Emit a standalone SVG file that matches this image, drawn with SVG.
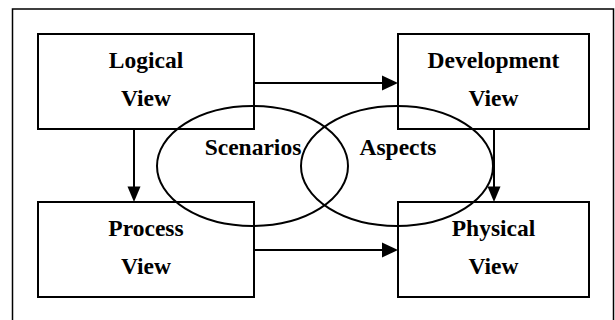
<svg xmlns="http://www.w3.org/2000/svg" width="615" height="320" viewBox="0 0 615 320">
  <defs>
    <style>
      .frame { fill: none; stroke: #000; stroke-width: 1.5; }
      .box { fill: none; stroke: #000; stroke-width: 2; }
      .ring { fill: none; stroke: #000; stroke-width: 2; }
      .edge { fill: none; stroke: #000; stroke-width: 2; }
      .head { fill: #000; stroke: none; }
      .label { font-family: "Liberation Serif", "Times New Roman", serif; font-weight: bold; font-size: 23.5px; fill: #000; text-anchor: middle; }
    </style>
  </defs>

  <rect width="615" height="320" fill="#fff"/>
  <!-- outer frame (bottom edge runs past the canvas) -->
  <rect class="frame" x="12.5" y="9" width="601" height="320"/>

  <!-- view boxes -->
  <g id="logical-view">
    <rect class="box" x="38" y="34" width="216" height="95"/>
    <text class="label" x="146" y="68">Logical</text>
    <text class="label" x="146" y="106">View</text>
  </g>
  <g id="development-view">
    <rect class="box" x="398" y="34" width="191" height="95"/>
    <text class="label" x="493.5" y="68">Development</text>
    <text class="label" x="493.5" y="106">View</text>
  </g>
  <g id="process-view">
    <rect class="box" x="38" y="202" width="216" height="95"/>
    <text class="label" x="146" y="236">Process</text>
    <text class="label" x="146" y="274">View</text>
  </g>
  <g id="physical-view">
    <rect class="box" x="398" y="202" width="191" height="95"/>
    <text class="label" x="493.5" y="236">Physical</text>
    <text class="label" x="493.5" y="274">View</text>
  </g>

  <!-- overlapping ellipses -->
  <g id="scenarios">
    <ellipse class="ring" cx="252.5" cy="166" rx="95.5" ry="60"/>
    <text class="label" x="253" y="155">Scenarios</text>
  </g>
  <g id="aspects">
    <ellipse class="ring" cx="397" cy="166" rx="96" ry="60"/>
    <text class="label" x="398" y="155">Aspects</text>
  </g>

  <!-- connectors -->
  <g id="connectors">
    <line class="edge" x1="254" y1="83" x2="384" y2="83"/>
    <polygon class="head" points="398,83 382,75.5 382,90.5"/>

    <line class="edge" x1="254" y1="250" x2="384" y2="250"/>
    <polygon class="head" points="398,250 382,242.5 382,257.5"/>

    <line class="edge" x1="134" y1="129" x2="134" y2="189"/>
    <polygon class="head" points="134,202 127.5,186.5 140.5,186.5"/>

    <line class="edge" x1="494" y1="129" x2="494" y2="189"/>
    <polygon class="head" points="494,202 487.5,186.5 500.5,186.5"/>
  </g>
</svg>
